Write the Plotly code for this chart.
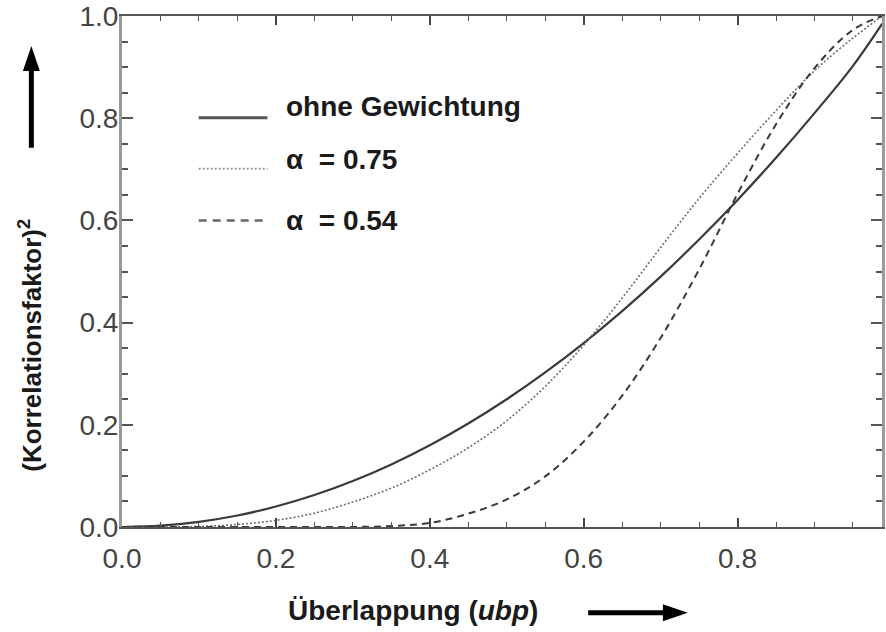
import plotly.graph_objects as go

# Überlappung (ubp) sample positions
ubp = [0.0, 0.05, 0.10, 0.15, 0.20, 0.25, 0.30, 0.35, 0.40, 0.45, 0.50,
       0.55, 0.60, 0.65, 0.70, 0.75, 0.80, 0.85, 0.90, 0.95, 0.988]

# (Korrelationsfaktor)^2 without weighting
ohne_gewichtung = [0.0, 0.0025, 0.010, 0.0225, 0.040, 0.0625, 0.090, 0.1225, 0.160, 0.2025, 0.250,
                   0.3025, 0.360, 0.4225, 0.490, 0.5625, 0.640, 0.7225, 0.810, 0.9025, 0.985]

# weighted, alpha = 0.75
alpha_075 = [0.0, 0.0, 0.001, 0.005, 0.013, 0.027, 0.049, 0.076, 0.112, 0.155, 0.208,
             0.275, 0.356, 0.448, 0.547, 0.643, 0.731, 0.815, 0.893, 0.957, 1.0]

# weighted, alpha = 0.54
alpha_054 = [0.0, 0.0, 0.0, 0.0, 0.0, 0.0, 0.0, 0.002, 0.008, 0.026, 0.054,
             0.099, 0.167, 0.257, 0.370, 0.504, 0.652, 0.788, 0.898, 0.973, 1.0]

x_ticks = [0.0, 0.2, 0.4, 0.6, 0.8]
y_ticks = [0.0, 0.2, 0.4, 0.6, 0.8, 1.0]

legend_labels = ["ohne Gewichtung", "α  = 0.75", "α  = 0.54"]

W, H = 886, 632
L, R, T, B = 122, 1, 15, 105          # plot margins in px
PW, PH = W - L - R, H - T - B


def px(xp):
    return (xp - L) / PW


def py(yp):
    return (H - B - yp) / PH


fig = go.Figure()

styles = [
    dict(color="#3a3a3a", width=2.2, dash="solid"),
    dict(color="#6e6e6e", width=1.6, dash="2px,2px"),
    dict(color="#3a3a3a", width=2.0, dash="7px,5px"),
]
series = [ohne_gewichtung, alpha_075, alpha_054]

for vals, st, name in zip(series, styles, legend_labels):
    fig.add_trace(go.Scatter(
        x=ubp, y=vals, mode="lines", name=name, showlegend=False,
        line=dict(color=st["color"], width=st["width"], dash=st["dash"],
                  shape="spline", smoothing=1.0),
    ))

shapes = []
annotations = []

# legend keys and labels
key_y = [117, 168, 220]
text_y = [106, 159, 220]
key_styles = [
    dict(color="#555555", width=3, dash="solid"),
    dict(color="#9a9a9a", width=2, dash="2px,2px"),
    dict(color="#666666", width=2.5, dash="8px,6px"),
]
for ky, ty, ks, lab in zip(key_y, text_y, key_styles, legend_labels):
    shapes.append(dict(type="line", xref="paper", yref="paper",
                       x0=px(199), x1=px(268), y0=py(ky), y1=py(ky),
                       line=ks))
    annotations.append(dict(xref="paper", yref="paper", x=px(285), y=py(ty),
                            xanchor="left", yanchor="middle", showarrow=False,
                            text="<b>" + lab + "</b>",
                            font=dict(family="Liberation Sans, Arial, sans-serif",
                                      size=28, color="#1a1a1a")))

# direction arrows beside the axis titles
ax_x = 31
shapes.append(dict(type="line", xref="paper", yref="paper",
                   x0=px(ax_x), x1=px(ax_x), y0=py(147), y1=py(68),
                   line=dict(color="black", width=5)))
shapes.append(dict(type="path", xref="paper", yref="paper", fillcolor="black",
                   line=dict(width=0),
                   path=f"M {px(ax_x - 8.5)} {py(70)} L {px(ax_x)} {py(45)} L {px(ax_x + 8.5)} {py(70)} Z"))

ar_y = 613
shapes.append(dict(type="line", xref="paper", yref="paper",
                   x0=px(590), x1=px(667), y0=py(ar_y), y1=py(ar_y),
                   line=dict(color="black", width=5)))
shapes.append(dict(type="path", xref="paper", yref="paper", fillcolor="black",
                   line=dict(width=0),
                   path=f"M {px(665)} {py(ar_y - 8.5)} L {px(690)} {py(ar_y)} L {px(665)} {py(ar_y + 8.5)} Z"))

# axis titles
annotations.append(dict(xref="paper", yref="paper", x=px(414), y=py(611),
                        xanchor="center", yanchor="middle", showarrow=False,
                        text="<b>Überlappung (<i>ubp</i>)</b>",
                        font=dict(family="Liberation Sans, Arial, sans-serif",
                                  size=28, color="#1a1a1a")))
annotations.append(dict(xref="paper", yref="paper", x=px(30), y=py(345),
                        xanchor="center", yanchor="middle", showarrow=False,
                        textangle=-90,
                        text="<b>(Korrelationsfaktor)<sup>2</sup></b>",
                        font=dict(family="Liberation Sans, Arial, sans-serif",
                                  size=26, color="#1a1a1a")))

tick_font = dict(family="Liberation Sans, Arial, sans-serif",
                 size=28, color="#444444")

fig.update_layout(
    width=W, height=H, autosize=False,
    margin=dict(l=L, r=R, t=T, b=B, pad=0),
    paper_bgcolor="white", plot_bgcolor="white",
    shapes=shapes, annotations=annotations,
    xaxis=dict(range=[0, 0.9877], tickvals=x_ticks,
               ticktext=[f"{v:.1f}" for v in x_ticks],
               ticks="inside", ticklen=9, tickwidth=1.5, tickcolor="#444",
               minor=dict(dtick=0.05, tick0=0, ticks="inside", ticklen=5,
                          tickwidth=1.2, tickcolor="#555"),
               showline=True, linecolor="#555", linewidth=2, mirror="ticks",
               showgrid=False, zeroline=False, tickfont=tick_font,
               ticklabelstandoff=5, ticklabeloverflow="allow"),
    yaxis=dict(range=[0, 1.0], tickvals=y_ticks,
               ticktext=[f"{v:.1f}" for v in y_ticks],
               ticks="inside", ticklen=11, tickwidth=2, tickcolor="#555",
               minor=dict(dtick=0.05, tick0=0, ticks="inside", ticklen=6,
                          tickwidth=2, tickcolor="#555"),
               showline=True, linecolor="#9a9a9a", linewidth=3, mirror="ticks",
               showgrid=False, zeroline=False, tickfont=tick_font,
               ticklabelstandoff=-5, ticklabeloverflow="allow"),
)

fig.write_html("out.html")
